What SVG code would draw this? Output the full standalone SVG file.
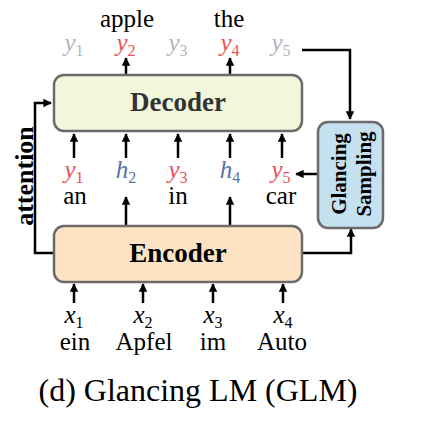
<svg xmlns="http://www.w3.org/2000/svg" width="431" height="427" viewBox="0 0 431 427">
<style>
.box{stroke:#6b6b6b;stroke-width:2.5}
.lbl{font-family:"Liberation Serif","Times New Roman",serif;font-size:25px;fill:#000}
.var{font-family:"Liberation Serif","Times New Roman",serif;font-size:25px;font-style:italic}
.sub{font-style:normal;font-size:16px}
.g{fill:#b4b4bc}.r{fill:#e8505c}.b{fill:#5b72a6}
.bold{font-family:"Liberation Serif","Times New Roman",serif;font-weight:bold}
.c{stroke:#000;stroke-width:2.5;fill:none}
</style>
<defs>
<marker id="ah" viewBox="0 0 10 10" refX="9" refY="5" markerWidth="3.4" markerHeight="3.4" orient="auto" markerUnits="strokeWidth">
<path d="M0,0 L10,5 L0,10 Z" fill="#000"/>
</marker>
</defs>
<rect width="431" height="427" fill="#fff"/>
<g id="connectors">
<line class="c" x1="126" y1="74" x2="126" y2="58" marker-end="url(#ah)"/>
<line class="c" x1="230" y1="74" x2="230" y2="58" marker-end="url(#ah)"/>
<line class="c" x1="74" y1="158" x2="74" y2="134" marker-end="url(#ah)"/>
<line class="c" x1="126" y1="158" x2="126" y2="134" marker-end="url(#ah)"/>
<line class="c" x1="178" y1="158" x2="178" y2="134" marker-end="url(#ah)"/>
<line class="c" x1="230" y1="158" x2="230" y2="134" marker-end="url(#ah)"/>
<line class="c" x1="282" y1="158" x2="282" y2="134" marker-end="url(#ah)"/>
<line class="c" x1="126" y1="225" x2="126" y2="197" marker-end="url(#ah)"/>
<line class="c" x1="230" y1="225" x2="230" y2="197" marker-end="url(#ah)"/>
<line class="c" x1="74" y1="303" x2="74" y2="284" marker-end="url(#ah)"/>
<line class="c" x1="143" y1="303" x2="143" y2="284" marker-end="url(#ah)"/>
<line class="c" x1="213" y1="303" x2="213" y2="284" marker-end="url(#ah)"/>
<line class="c" x1="283" y1="303" x2="283" y2="284" marker-end="url(#ah)"/>
<polyline class="c" points="302,50 350,50 350,119" marker-end="url(#ah)"/>
<line class="c" x1="317" y1="174" x2="296" y2="174" marker-end="url(#ah)"/>
<polyline class="c" points="303,253 351,253 351,229" marker-end="url(#ah)"/>
<polyline class="c" points="53,253 35,253 35,103 51,103" marker-end="url(#ah)"/>
</g>
<g id="decoder">
<rect class="box" x="54" y="75" width="248" height="56" rx="10" fill="#f2f7dc"/>
<text class="bold" x="178" y="111" font-size="27" text-anchor="middle" fill="#333">Decoder</text>
</g>
<g id="encoder">
<rect class="box" x="54" y="226" width="248" height="56" rx="10" fill="#fde3c4"/>
<text class="bold" x="178" y="262" font-size="27" text-anchor="middle" fill="#000">Encoder</text>
</g>
<g id="glancing">
<rect class="box" x="318" y="122" width="65" height="106" rx="10" fill="#c5e0ee"/>
<text class="bold" font-size="21" text-anchor="middle" transform="translate(346,174) rotate(-90)">Glancing</text>
<text class="bold" font-size="21" text-anchor="middle" transform="translate(371,174) rotate(-90)">Sampling</text>
</g>
<g id="attention">
<text class="bold" font-size="26" text-anchor="middle" transform="translate(33,176) rotate(-90)">attention</text>
</g>
<g id="top-outputs">
<text class="lbl" x="127" y="27" text-anchor="middle">apple</text>
<text class="lbl" x="229" y="27" text-anchor="middle">the</text>
<text class="var g" x="74" y="51" text-anchor="middle">y<tspan class="sub" dy="5">1</tspan></text>
<text class="var r" x="126" y="51" text-anchor="middle">y<tspan class="sub" dy="5">2</tspan></text>
<text class="var g" x="178" y="51" text-anchor="middle">y<tspan class="sub" dy="5">3</tspan></text>
<text class="var r" x="230" y="51" text-anchor="middle">y<tspan class="sub" dy="5">4</tspan></text>
<text class="var g" x="281" y="51" text-anchor="middle">y<tspan class="sub" dy="5">5</tspan></text>
</g>
<g id="decoder-inputs">
<text class="var r" x="74" y="178" text-anchor="middle">y<tspan class="sub" dy="5">1</tspan></text>
<text class="var b" x="126" y="178" text-anchor="middle">h<tspan class="sub" dy="5">2</tspan></text>
<text class="var r" x="178" y="178" text-anchor="middle">y<tspan class="sub" dy="5">3</tspan></text>
<text class="var b" x="230" y="178" text-anchor="middle">h<tspan class="sub" dy="5">4</tspan></text>
<text class="var r" x="281" y="178" text-anchor="middle">y<tspan class="sub" dy="5">5</tspan></text>
<text class="lbl" x="75" y="204" text-anchor="middle">an</text>
<text class="lbl" x="178" y="204" text-anchor="middle">in</text>
<text class="lbl" x="281" y="204" text-anchor="middle">car</text>
</g>
<g id="encoder-inputs">
<text class="var" x="74" y="323" text-anchor="middle" fill="#000">x<tspan class="sub" dy="5">1</tspan></text>
<text class="var" x="143" y="323" text-anchor="middle" fill="#000">x<tspan class="sub" dy="5">2</tspan></text>
<text class="var" x="213" y="323" text-anchor="middle" fill="#000">x<tspan class="sub" dy="5">3</tspan></text>
<text class="var" x="283" y="323" text-anchor="middle" fill="#000">x<tspan class="sub" dy="5">4</tspan></text>
<text class="lbl" x="75" y="350" text-anchor="middle">ein</text>
<text class="lbl" x="144" y="350" text-anchor="middle">Apfel</text>
<text class="lbl" x="213" y="350" text-anchor="middle">im</text>
<text class="lbl" x="282" y="350" text-anchor="middle">Auto</text>
</g>
<text x="198" y="401" font-family="Liberation Serif,'Times New Roman',serif" font-size="32" text-anchor="middle">(d) Glancing LM (GLM)</text>
</svg>
